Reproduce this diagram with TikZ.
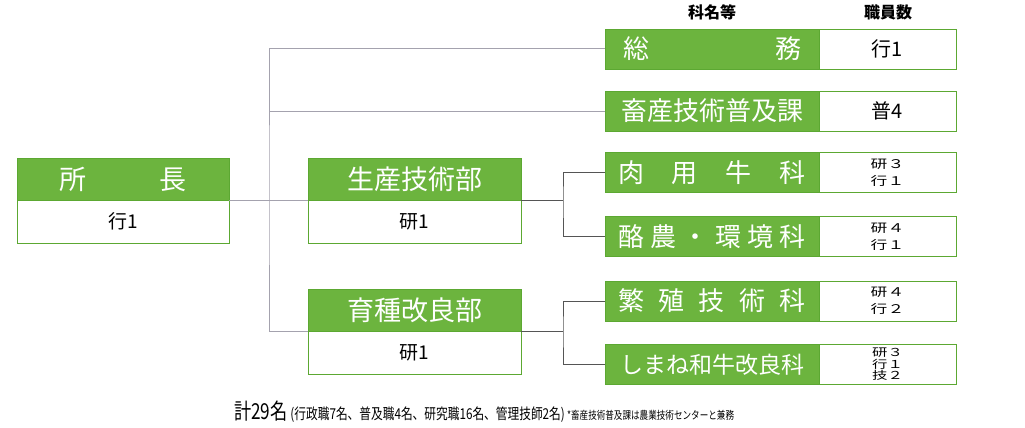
\documentclass[tikz,border=0pt]{standalone}
\usepackage{fontspec}
\setmainfont{Noto Sans CJK JP}
\newfontfamily\widefont[FakeStretch=1.4]{Noto Sans CJK JP}
\newfontfamily\narrowfont[FakeStretch=0.78]{Noto Sans CJK JP}
\usetikzlibrary{positioning}
\definecolor{leaf}{HTML}{6CB43E}
\definecolor{leafline}{HTML}{5CA832}
\definecolor{wire}{HTML}{A4A2AE}
\definecolor{wiredark}{HTML}{555555}
\tikzset{
  deptbox/.style={fill=leaf, draw=leafline, line width=0.8pt, text=white,
                  minimum width=213pt, minimum height=42pt, inner sep=0pt,
                  outer sep=0pt, align=center, font=\fontsize{27}{27}\selectfont},
  staffbox/.style={draw=leafline, line width=0.8pt, fill=white,
                   minimum width=213pt, minimum height=43pt, inner sep=0pt,
                   outer sep=0pt, font=\fontsize{19}{19}\selectfont},
  unitbox/.style={fill=leaf, draw=leafline, line width=0.8pt, text=white,
                  minimum width=214pt, minimum height=40pt, text width=188pt,
                  inner sep=0pt, outer sep=0pt, align=center,
                  font=\fontsize{26}{26}\selectfont},
  countbox/.style={draw=leafline, line width=0.8pt, fill=white,
                   minimum width=137pt, minimum height=40pt, inner sep=0pt,
                   outer sep=0pt, align=left, font=\fontsize{20}{20}\selectfont},
  small/.style={font=\widefont\fontsize{12}{17}\selectfont},
  tiny/.style={font=\widefont\fontsize{11}{11.5}\selectfont},
  wire/.style={draw=wire, line width=1pt},
  wireD/.style={draw=wiredark, line width=1pt},
}
\begin{document}
\begin{tikzpicture}[x=1pt, y=-1pt]
  \useasboundingbox (0,0) rectangle (1025,428);
  % left column
  \node[deptbox, minimum width=212pt] (chief) at (123,179) {\makebox[128pt]{所\hfill 長}};
  \node[staffbox, minimum width=212pt, below=0pt of chief] (chiefN) {行1};
  \node[deptbox] (seisan) at (414.5,179) {生産技術部};
  \node[staffbox, below=0pt of seisan] (seisanN) {研1};
  \node[deptbox] (ikushu) at (414.5,310) {育種改良部};
  \node[staffbox, below=0pt of ikushu] (ikushuN) {研1};
  % headings
  \node[font=\bfseries\fontsize{16}{16}\selectfont] (hdUnit) at (712,12) {科名等};
  \node[font=\bfseries\fontsize{16}{16}\selectfont] (hdStaff) at (888,12) {職員数};
  % sections
  \node[unitbox, text width=178pt] (soumu) at (712,49) {総\hfill 務};
  \node[countbox, right=0pt of soumu] (soumuN) {行1};
  \node[unitbox] (chikusan) at (712,111) {畜産技術普及課};
  \node[countbox, right=0pt of chikusan] (chikusanN) {普4};
  \node[unitbox] (niku) at (712,172.5) {肉\hfill 用\hfill 牛\hfill 科};
  \node[countbox, small, right=0pt of niku] (nikuN) {研３\\行１};
  \node[unitbox] (rakuno) at (712,236.5) {酪\hfill 農\hfill ・\hfill 環\hfill 境\hfill 科};
  \node[countbox, small, right=0pt of rakuno] (rakunoN) {研４\\行１};
  \node[unitbox] (hanshoku) at (712,301) {繁\hfill 殖\hfill 技\hfill 術\hfill 科};
  \node[countbox, small, right=0pt of hanshoku] (hanshokuN) {研４\\行２};
  \node[unitbox, font=\fontsize{23}{23}\selectfont] (wagyu) at (712,364.5) {しまね和牛改良科};
  \node[countbox, tiny, right=0pt of wagyu] (wagyuN) {研３\\行１\\技２};
  % footnote
  \node[anchor=base west, inner sep=0pt] (total) at (234,419)
       {\narrowfont\fontsize{22}{22}\selectfont 計29名};
  \node[anchor=base west, inner sep=0pt] (breakdown) at (total.base east)
       {\narrowfont\fontsize{15}{15}\selectfont\,(行政職7名、普及職4名、研究職16名、管理技師2名)};
  \node[anchor=base west, inner sep=0pt] (remark) at (breakdown.base east)
       {\narrowfont\fontsize{11}{11}\selectfont\,*畜産技術普及課は農業技術センターと兼務};
  % connectors
  \coordinate (trunk) at (269,200);
  \coordinate (forkA) at (563,200);
  \coordinate (forkB) at (563,331);
  \draw[wire] (chief.south east) -- (seisan.south west);
  \draw[wire] (soumu.west) -| (trunk) |- (ikushu.south west);
  \draw[wire] (chikusan.west) -- (chikusan.west -| trunk);
  \draw[wireD] (seisan.south east) -- (forkA);
  \draw[wireD] (niku.west) -| (forkA) |- (rakuno.west);
  \draw[wireD] (ikushu.south east) -- (forkB);
  \draw[wireD] (hanshoku.west) -| (forkB) |- (wagyu.west);
\end{tikzpicture}
\end{document}
